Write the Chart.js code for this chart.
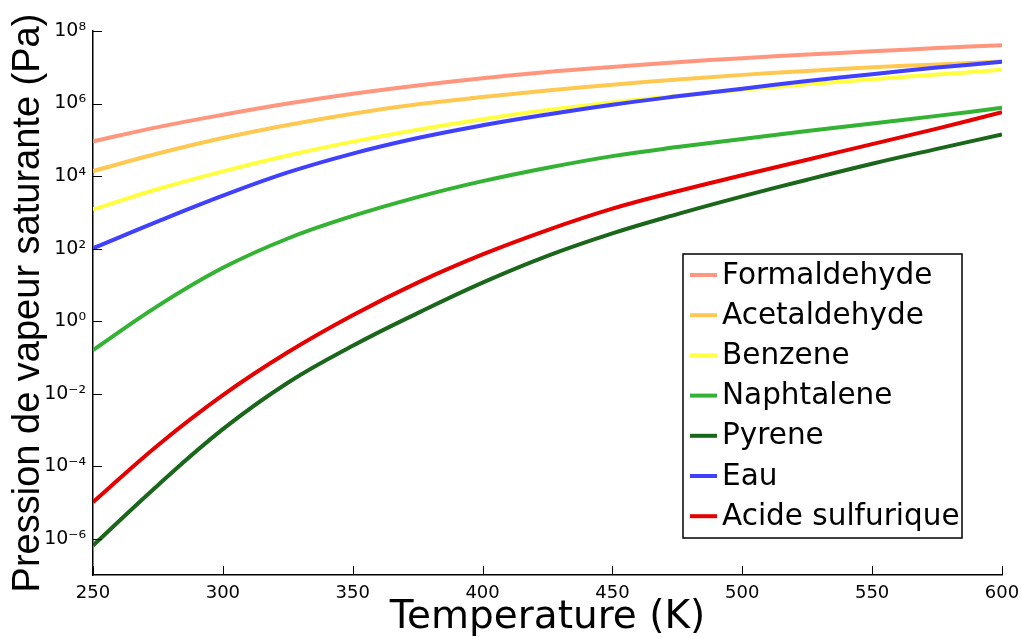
<!DOCTYPE html>
<html>
<head>
<meta charset="utf-8">
<title>Pression de vapeur saturante</title>
<script src="https://cdn.jsdelivr.net/npm/chart.js@4.4.0/dist/chart.umd.min.js"></script>
<style>
    body { margin: 0; background: #fff; }
    #wrap { width: 1022px; height: 637px; }
</style>
</head>
<body>
<div id="wrap"><canvas id="vaporChart" width="1022" height="637"></canvas></div>
<script>
// Temperatures (K) where the curves were read
const temperatures = [250, 275, 300, 325, 350, 375, 400, 425, 450, 475, 500, 525, 550, 575, 600];

// Saturation vapour pressure (Pa) for each compound
const formaldehyde = [9.1e4, 2.24e5, 4.9e5, 1.0e6, 1.86e6, 3.16e6, 5.0e6, 7.4e6, 1.02e7, 1.38e7, 1.78e7, 2.24e7, 2.75e7, 3.39e7, 4.07e7];
const acetaldehyde = [1.38e4, 4.2e4, 1.12e5, 2.57e5, 5.25e5, 9.5e5, 1.51e6, 2.29e6, 3.31e6, 4.57e6, 6.17e6, 7.9e6, 1.0e7, 1.2e7, 1.45e7];
const benzene = [1.2e3, 4.4e3, 1.35e4, 3.7e4, 8.9e4, 1.9e5, 3.7e5, 6.6e5, 1.07e6, 1.62e6, 2.4e6, 3.4e6, 4.7e6, 6.3e6, 8.5e6];
const naphtalene = [0.158, 2.63, 29.5, 190, 794, 2630, 7240, 1.7e4, 3.55e4, 6.3e4, 1.05e5, 1.74e5, 2.82e5, 4.57e5, 7.6e5];
const pyrene = [6.5e-7, 3.0e-5, 1.05e-3, 2.0e-2, 0.209, 1.66, 11.5, 63, 263, 891, 2750, 7940, 2.19e4, 5.62e4, 1.41e5];
const eau = [102, 562, 2880, 1.26e4, 4.17e4, 1.12e5, 2.51e5, 5.0e5, 9.3e5, 1.58e6, 2.57e6, 4.17e6, 6.46e6, 9.8e6, 1.41e7];
const acideSulfurique = [1.02e-5, 3.8e-4, 9.1e-3, 0.138, 1.45, 11.5, 69, 324, 1260, 3800, 1.05e4, 2.82e4, 7.6e4, 2.04e5, 5.75e5];

// Axis ticks
const xTicks = [250, 300, 350, 400, 450, 500, 550, 600];
const yTicks = [1e-6, 1e-4, 1e-2, 1e0, 1e2, 1e4, 1e6, 1e8];

const seriesNames = ['Formaldehyde', 'Acetaldehyde', 'Benzene', 'Naphtalene', 'Pyrene', 'Eau', 'Acide sulfurique'];
const seriesValues = [formaldehyde, acetaldehyde, benzene, naphtalene, pyrene, eau, acideSulfurique];
const seriesColors = ['#FF967D', '#FFC850', '#FFFF40', '#33B233', '#1A661A', '#4040FF', '#E60000'];

// turn an exponent into unicode superscript, e.g. -6 -> ⁻⁶
const supMap = { '-': '\u207B', '0': '\u2070', '1': '\u00B9', '2': '\u00B2', '3': '\u00B3', '4': '\u2074',
                 '5': '\u2075', '6': '\u2076', '7': '\u2077', '8': '\u2078', '9': '\u2079' };
function toSup(n) {
    return String(n).split('').map(c => supMap[c]).join('');
}

// Tick marks drawn inside the plot, like the original figure
const insideTicks = {
    id: 'insideTicks',
    afterDraw(chart) {
        const { ctx, chartArea, scales } = chart;
        ctx.save();
        ctx.strokeStyle = '#000';
        ctx.lineWidth = 1;
        scales.x.ticks.forEach(t => {
            const px = Math.round(scales.x.getPixelForValue(t.value)) + 0.5;
            ctx.beginPath();
            ctx.moveTo(px, chartArea.bottom);
            ctx.lineTo(px, chartArea.bottom - 9);
            ctx.stroke();
        });
        scales.y.ticks.forEach(t => {
            const py = Math.round(scales.y.getPixelForValue(t.value)) + 0.5;
            ctx.beginPath();
            ctx.moveTo(chartArea.left, py);
            ctx.lineTo(chartArea.left + 9, py);
            ctx.stroke();
        });
        ctx.restore();
    }
};

// Legend box inside the plot area (bottom right)
const boxLegend = {
    id: 'boxLegend',
    afterDraw(chart) {
        const { ctx, chartArea } = chart;
        const boxW = 279, boxH = 284;
        const x0 = chartArea.right - 40 - boxW;
        const y0 = 254;
        ctx.save();
        ctx.fillStyle = '#fff';
        ctx.fillRect(x0, y0, boxW, boxH);
        ctx.strokeStyle = '#000';
        ctx.lineWidth = 1.5;
        ctx.strokeRect(x0, y0, boxW, boxH);
        ctx.font = '29.5px "DejaVu Sans"';
        ctx.textBaseline = 'middle';
        chart.data.datasets.forEach((ds, i) => {
            const y = y0 + 21 + i * 40.2;
            ctx.strokeStyle = ds.borderColor;
            ctx.lineWidth = 4;
            ctx.beginPath();
            ctx.moveTo(x0 + 7, y);
            ctx.lineTo(x0 + 34, y);
            ctx.stroke();
            ctx.fillStyle = '#000';
            ctx.fillText(ds.label, x0 + 39, y + 1);
        });
        ctx.restore();
    }
};

Chart.defaults.font.family = '"DejaVu Sans", sans-serif';
Chart.defaults.color = '#000';

const datasets = seriesNames.map((name, i) => ({
    label: name,
    data: temperatures.map((t, j) => ({ x: t, y: seriesValues[i][j] })),
    borderColor: seriesColors[i],
    backgroundColor: seriesColors[i],
    borderWidth: 4,
    pointRadius: 0,
    tension: 0.4,
    fill: false,
    order: -i, // later series drawn on top, as in the original
}));

const ctx = document.getElementById('vaporChart').getContext('2d');
new Chart(ctx, {
    type: 'line',
    data: { datasets: datasets },
    options: {
        responsive: false,
        animation: false,
        layout: { padding: { top: 31, right: 20, left: 0, bottom: 0 } },
        plugins: {
            legend: { display: false },
            tooltip: { enabled: false },
        },
        scales: {
            x: {
                type: 'linear',
                min: 250,
                max: 600,
                afterBuildTicks: scale => { scale.ticks = xTicks.map(v => ({ value: v })); },
                afterFit: scale => {
                    scale.height = 62;
                    scale.paddingRight = 0; // the "600" label may overhang into the right margin
                    scale.paddingLeft = 0;
                },
                grid: { display: false, drawTicks: false },
                border: { display: true, color: '#000', width: 1.5 },
                ticks: { padding: 8, font: { size: 18 }, maxRotation: 0 },
                title: {
                    display: true,
                    text: 'Temperature (K)',
                    font: { size: 39, lineHeight: 1 },
                    padding: 0,
                },
            },
            y: {
                type: 'logarithmic',
                min: 1e-7,
                max: 1e8,
                afterBuildTicks: scale => { scale.ticks = yTicks.map(v => ({ value: v })); },
                afterFit: scale => { scale.width = 93; },
                grid: { display: false, drawTicks: false },
                border: { display: true, color: '#000', width: 1.5 },
                ticks: {
                    padding: 7,
                    autoSkip: false,
                    font: { size: 19 },
                    callback: v => '10' + toSup(Math.round(Math.log10(v))),
                },
                title: {
                    display: true,
                    text: 'Pression de vapeur saturante (Pa)',
                    font: { family: '"Liberation Sans", Arial, sans-serif', size: 38, lineHeight: 1.2 },
                    padding: { top: 6, bottom: 0 },
                },
            },
        },
    },
    plugins: [insideTicks, boxLegend],
});
</script>
</body>
</html>
